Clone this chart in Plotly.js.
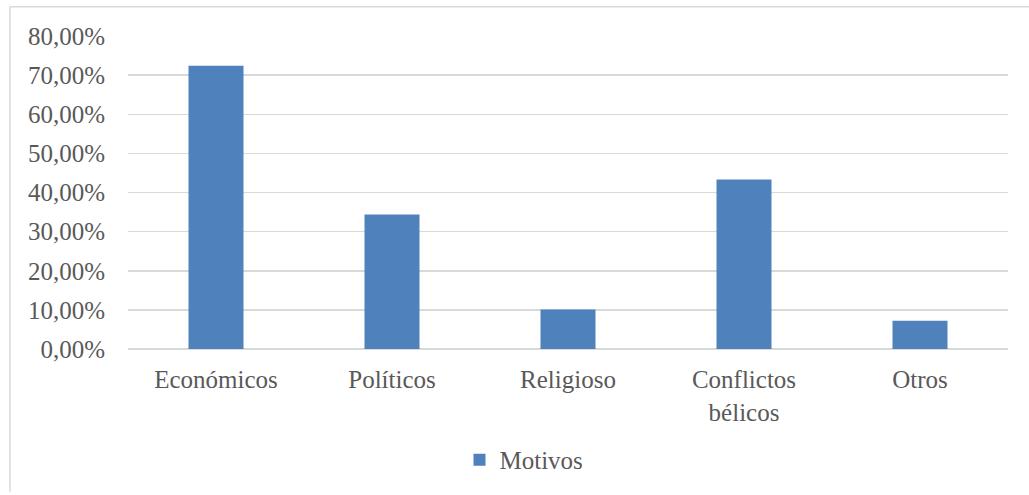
<!DOCTYPE html>
<html>
<head>
<meta charset="utf-8">
<script src="https://cdn.plot.ly/plotly-3.0.1.min.js"></script>
<style>html,body{margin:0;padding:0;background:#fff;}#chart{width:1029px;height:495px;}</style>
</head>
<body>
<div id="chart"></div>
<script>
const categories = ["Económicos", "Políticos", "Religioso", "Conflictos<br>bélicos", "Otros"];
const motivos = [0.724, 0.344, 0.101, 0.433, 0.072];
const seriesName = "Motivos";
const yTicks = [0, 0.1, 0.2, 0.3, 0.4, 0.5, 0.6, 0.7, 0.8];

const W = 1029, H = 495, L = 128, R = 21, T = 36, B = 143;
const pw = W - L - R, ph = H - T - B;
function px(x) { return (x - L) / pw; }
function py(y) { return (H - B - y) / ph; }

const trace = {
  type: "bar",
  x: categories,
  y: motivos,
  name: seriesName,
  marker: { color: "#4f81bd" },
  showlegend: true,
  hoverinfo: "x+y"
};

const layout = {
  width: W, height: H,
  margin: { l: L, r: R, t: T, b: B, pad: 0 },
  paper_bgcolor: "#ffffff",
  plot_bgcolor: "#ffffff",
  separators: ",.",
  font: { family: "Liberation Serif, serif", size: 25, color: "#595959" },
  bargap: 0.6875,
  showlegend: true,
  legend: {
    orientation: "h", x: 0.45, xanchor: "center", y: py(464), yanchor: "middle",
    font: { family: "Liberation Serif, serif", size: 25, color: "#595959" },
    bgcolor: "rgba(0,0,0,0)"
  },
  xaxis: {
    type: "category",
    showgrid: false, zeroline: false, showline: false,
    ticks: "outside", ticklen: 8, tickcolor: "rgba(0,0,0,0)",
    tickfont: { family: "Liberation Serif, serif", size: 25, color: "#595959" },
    fixedrange: true
  },
  yaxis: {
    range: [0, 0.8],
    tickvals: yTicks,
    tickformat: ".2%",
    showgrid: true, gridcolor: "#d9d9d9", gridwidth: 1.5,
    zeroline: true, zerolinecolor: "#d9d9d9", zerolinewidth: 1.5,
    showline: false,
    ticks: "outside", ticklen: 17, tickcolor: "rgba(0,0,0,0)",
    tickfont: { family: "Liberation Serif, serif", size: 25, color: "#595959" },
    fixedrange: true
  },
  shapes: [{
    type: "path", xref: "paper", yref: "paper",
    path: "M " + px(10) + "," + py(496) + " L " + px(10) + "," + py(6.5) + " L " + px(1030) + "," + py(6.5),
    line: { color: "#d9d9d9", width: 1.5 }
  }]
};

Plotly.newPlot("chart", [trace], layout, { displayModeBar: false, staticPlot: true });
</script>
</body>
</html>
